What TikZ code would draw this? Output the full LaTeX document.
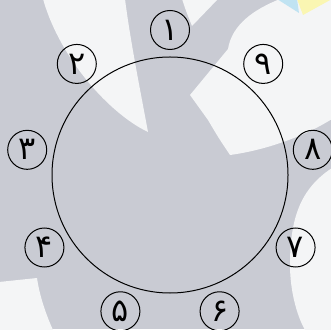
\documentclass[tikz,border=0pt]{standalone}
\usepackage{fontspec}
\usepackage{tikz}

\newfontfamily\persianfont[Script=Arabic]{DejaVu Sans}
\definecolor{bggrey}{RGB}{201,203,211}
\definecolor{bgwhite}{RGB}{244,245,246}
\definecolor{gemyellow}{RGB}{250,246,178}
\definecolor{gemblue}{RGB}{192,227,242}

\begin{document}
\begin{tikzpicture}[x=1pt, y=1pt,
    ringline/.style={draw, circle, line width=1pt, inner sep=0pt},
    digitcircle/.style={ringline, minimum size=39pt, font=\persianfont\fontsize{32}{34}\selectfont}]

\useasboundingbox (0,0) rectangle (331,329);
\clip (0,0) rectangle (331,329);

% ---- Background (grey with white sweeps) ----
            \fill[bggrey] (0,0) rectangle (331,329);
            \fill[bgwhite] (43,330) .. controls (60,270) and (110,215) .. (148,197)
                .. controls (140,240) and (130,290) .. (125,330) -- cycle;
            \fill[bgwhite] (182,330) .. controls (186,318) .. (192,303) -- (218,330) -- cycle;
            \fill[bgwhite] (280,330) .. controls (255,320) and (232,305) .. (228,280)
                -- (190,234) -- (208,209) .. controls (218,192) .. (230,174)
                .. controls (260,178) and (300,190) .. (332,210) -- (332,330) -- cycle;
            \fill[bgwhite] (332,161) .. controls (300,140) and (290,110) .. (290,64)
                .. controls (290,40) and (296,15) .. (305,-1) -- (332,-1) -- cycle;
            \fill[bgwhite] (-1,47) -- (37,51) .. controls (40,30) and (48,10) .. (53,-1) -- (-1,-1) -- cycle;

% ---- Corner logo ----
            \fill[gemblue] (277,330) -- (297,330) -- (299,316) -- cycle;
            \fill[gemyellow] (297,330) -- (332,330) -- (303,314) -- cycle;

% ---- Ring ----
            \node[ringline, minimum size=236pt] (ring) at (170,154) {};

% ---- Numbered circles ----
            \foreach \k/\lab in {1/۱,2/۲,3/۳,4/۴,5/۵,6/۶,7/۷,8/۸,9/۹} {
                \path (ring.center) ++({90+40*(\k-1)}:145) node[digitcircle] (d\k) {\lab};
            }

\end{tikzpicture}
\end{document}
